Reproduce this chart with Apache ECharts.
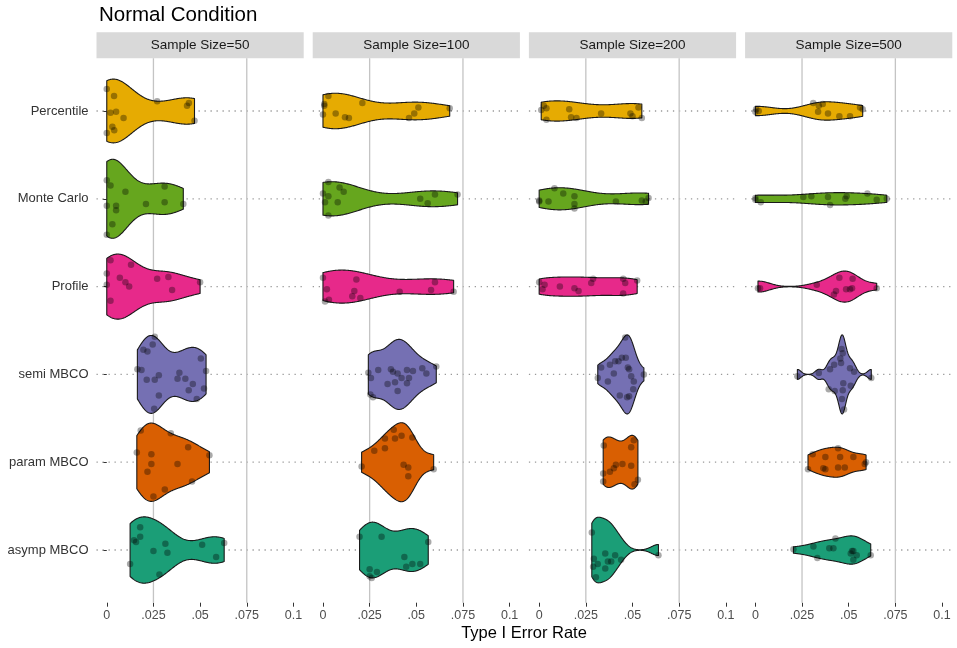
<!DOCTYPE html>
<html>
<head>
<meta charset="utf-8">
<script src="https://cdn.jsdelivr.net/npm/echarts@6/dist/echarts.min.js"></script>
<style>
  html, body { margin: 0; padding: 0; background: #fff; }
  #chart { width: 957px; height: 648px; }
</style>
</head>
<body>
<div id="chart"></div>
<script>
// categories / facets
const methods = ['Percentile', 'Monte Carlo', 'Profile', 'semi MBCO', 'param MBCO', 'asymp MBCO'];
const sampleSizes = [50, 100, 200, 500];
const xTicks = [0, 0.025, 0.05, 0.075, 0.1];
const xTickLabels = ['0', '.025', '.05', '.075', '0.1'];
const refLines = [0.025, 0.075];
const fills = ['#E6AB02', '#66A61E', '#E7298A', '#7570B3', '#D95F02', '#1B9E77'];

// type I error rates, one list per method
const rate50 = [
  [0, .0039, .002, .005, .009, .003, .004, 0, .027, .043, .044, .047],
  [0, .002, .010, .031, 0, .005, .005, .021, .031, .041, .003, 0],
  [.002, .013, 0, 0, .007, .010, .012, .002, .027, .033, .035, .050],
  [.0257, .0246, .0196, .0218, .0164, .0186, .0214, .0257, .0279, .0279, .0254, .0389, .0379, .0421, .0461, .0439, .0482, .0504, .0532, .0521],
  [.0182, .0343, .0161, .0239, .0239, .0218, .0379, .0436, .055, .0457, .0311, .025],
  [.0179, .0179, .0146, .0157, .0125, .025, .0314, .0325, .0282, .0511, .0586, .0629]
];
// vertical jitter of the dots, in category units (positive = up)
const jitter50 = [
  [.25, .17, -.02, -.01, -.08, -.18, -.22, -.25, .11, .06, .09, -.11],
  [.21, .15, .08, .14, -.08, -.08, -.13, -.06, -.04, -.06, -.29, -.41],
  [.30, .25, .15, .02, .10, .05, 0, -.16, .09, .11, -.04, .05],
  [.43, .34, .28, .26, .06, .05, -.06, -.06, -.01, -.24, -.39, .02, -.05, -.05, -.11, -.18, -.28, .18, .04, -.16],
  [.36, .33, .11, .09, -.02, -.11, -.02, .17, .08, -.22, -.31, -.39],
  [.26, .15, .11, .09, -.16, -.01, .07, -.03, -.28, .06, -.08, .08]
];

const rate100 = [
  [.0029, .0007, .0007, 0, .0068, .0118, .0139, .0211, .0461, .0489, .0511, .0679],
  [.0029, 0, .0029, .0011, .0079, .0089, .0111, .0029, .0521, .0561, .06, .0721],
  [0, .0021, .0011, .0032, .0179, .0168, .0157, .02, .0411, .0579, .06, .07],
  [.0243, .0257, .0254, .0268, .0296, .0364, .0375, .04, .0421, .0386, .0346, .04, .045, .0482, .0461, .045, .0532, .0554, .0607],
  [.0207, .0275, .0332, .0332, .0379, .0386, .0421, .0479, .0432, .0457, .0457, .0593],
  [.0196, .0314, .025, .025, .0261, .0289, .0436, .0446, .0479, .0521, .0564]
];
const jitter100 = [
  [.17, .08, .06, -.04, -.03, -.07, -.08, .09, -.08, -.03, .04, .03],
  [.19, .06, .03, -.04, -.04, .13, .08, -.19, 0, -.05, .05, .05],
  [.10, -.03, -.17, -.15, .08, -.05, -.11, -.13, -.06, -.04, .05, -.06],
  [.02, -.04, -.23, -.26, .05, .06, .03, .01, -.04, -.09, -.11, -.19, .05, .04, -.04, -.10, .07, .01, .09],
  [-.05, .13, .27, .16, .37, .27, .30, .28, -.03, -.06, -.16, -.08],
  [.15, .15, -.22, -.30, -.32, -.25, -.08, -.19, -.16, -.16, .09]
];

const rate200 = [
  [.0011, .0039, .0025, .0039, .0161, .0171, .02, .0332, .0489, .05, .0532, .055],
  [0, 0, .005, .0082, .0129, .0189, .0189, .0189, .0411, .055, .0571, .0586],
  [0, .0029, .0018, .0111, .0189, .0211, .0289, .0279, .045, .0461, .045, .0525],
  [.0461, .0464, .0443, .0425, .0407, .0379, .0332, .0314, .0482, .04, .0368, .0493, .0507, .0561, .0504, .0432, .0471, .0482, .0475],
  [.0346, .0493, .0507, .0446, .0411, .04, .0379, .0343, .0493, .0343, .0511, .0529],
  [.0282, .0354, .0293, .0314, .0289, .0354, .0368, .0386, .0407, .0439, .0304, .0639]
];
const jitter200 = [
  [.01, .03, .06, -.10, .02, -.07, -.08, -.03, -.03, -.06, .04, -.08],
  [-.03, -.02, -.03, .12, .06, .03, -.06, -.11, -.03, -.02, -.03, .01],
  [.05, .02, -.03, 0, -.02, -.05, .09, .04, .09, .04, -.08, .07],
  [.42, .19, .19, .15, .15, .11, .08, -.04, .06, .01, -.08, -.02, -.08, 0, -.17, -.24, -.26, -.25, .08],
  [.19, .17, .25, -.02, -.03, -.07, -.11, -.13, -.04, -.22, -.25, -.20],
  [.20, -.04, -.10, -.16, -.19, -.21, -.13, -.13, -.06, -.11, -.31, -.06]
];

const rate500 = [
  [.0004, .0018, 0, .031, .034, .0361, .0336, .0389, .045, .0507, .0561, .0575],
  [0, 0, .0029, .0257, .03, .0389, .04, .0482, .0489, .06, .065, .0704],
  [.0014, .0025, .0329, .045, .0521, .0432, .0421, .0486, .0507, .0518, .065],
  [.0225, .034, .040, .0422, .0462, .0468, .0455, .0459, .0507, .0529, .0393, .0425, .0471, .0468, .0511, .0464, .0475, .0621],
  [.0282, .0307, .0375, .0364, .0375, .0443, .0454, .0443, .0479, .0525, .0586, .0593],
  [.0204, .0311, .0332, .0396, .0418, .0429, .0518, .0525, .0511, .0543, .0525, .0618]
];
const jitter500 = [
  [.02, 0, -.01, .09, .06, .08, -.01, -.03, -.06, -.06, .04, .02],
  [-.01, .01, -.04, .02, .03, .02, -.07, 0, .03, .06, -.01, 0],
  [-.02, -.02, .02, .10, .09, -.05, -.09, -.03, -.03, -.02, -.02],
  [-.02, .015, .06, .11, .29, .24, .18, .13, .07, .03, -.17, -.19, -.10, -.18, -.13, -.28, -.40, -.04],
  [-.08, .09, .06, -.07, -.08, .16, .06, -.06, -.06, .06, -.02, 0],
  [.01, .04, -.09, .02, .02, .13, -.01, -.01, -.04, -.06, -.11, -.06]
];

const rates = [rate50, rate100, rate200, rate500];
const jitters = [jitter50, jitter100, jitter200, jitter500];

const FONT = '"Liberation Sans", Arial, Helvetica, sans-serif';
const X_MIN = -0.0055, X_MAX = 0.1055;
const Y_MIN = 0.4, Y_MAX = 6.6;

// gaussian kde like geom_violin (bw.nrd0, trimmed, scale = "area" per panel)
function q7(s, p) {
  const h = (s.length - 1) * p, lo = Math.floor(h);
  const hi = Math.min(lo + 1, s.length - 1);
  return s[lo] + (h - lo) * (s[hi] - s[lo]);
}
function bwNrd0(x) {
  const n = x.length;
  const mean = x.reduce((a, b) => a + b, 0) / n;
  const sd = Math.sqrt(x.reduce((a, b) => a + (b - mean) * (b - mean), 0) / (n - 1));
  const s = x.slice().sort((a, b) => a - b);
  let lo = Math.min(sd, (q7(s, 0.75) - q7(s, 0.25)) / 1.34);
  if (!lo) lo = sd || Math.abs(s[0]) || 1;
  return 0.9 * lo * Math.pow(n, -0.2);
}
function kde(x) {
  const bw = bwNrd0(x), lo = Math.min(...x), hi = Math.max(...x), m = 160;
  const out = [];
  for (let i = 0; i < m; i++) {
    const t = lo + (hi - lo) * i / (m - 1);
    let d = 0;
    for (const v of x) { const z = (t - v) / bw; d += Math.exp(-0.5 * z * z); }
    out.push([t, d / (x.length * bw * Math.sqrt(2 * Math.PI))]);
  }
  return out;
}
const curves = rates.map(panel => {
  const c = panel.map(kde);
  const maxD = Math.max(...c.map(v => Math.max(...v.map(p => p[1]))));
  return c.map(v => v.map(([t, d]) => [t, 0.45 * d / maxD]));
});

const chart = echarts.init(document.getElementById('chart'));

const grids = [], xAxes = [], yAxes = [], series = [], graphics = [];
const gridTop = 58.3, gridH = 544.4, gridW = 207.2;

sampleSizes.forEach((n, p) => {
  const left = 96.5 + p * 216.2;
  grids.push({ left: left, top: gridTop, width: gridW, height: gridH, containLabel: false });
  xAxes.push({
    gridIndex: p, type: 'value', min: X_MIN, max: X_MAX,
    axisLine: { show: false }, splitLine: { show: false },
    axisTick: { show: true, customValues: xTicks, length: 4, lineStyle: { color: '#333', width: 1 } },
    axisLabel: {
      customValues: xTicks, color: '#4d4d4d', fontSize: 12.5, margin: 6, fontFamily: FONT,
      formatter: v => { const k = xTicks.findIndex(t => Math.abs(t - v) < 1e-9); return k < 0 ? '' : xTickLabels[k]; }
    }
  });
  yAxes.push({
    gridIndex: p, type: 'value', inverse: true, min: Y_MIN, max: Y_MAX,
    axisLine: { show: false }, splitLine: { show: false },
    axisTick: { show: p === 0, customValues: [1, 2, 3, 4, 5, 6], length: 4, lineStyle: { color: '#333', width: 1 } },
    axisLabel: {
      show: p === 0, customValues: [1, 2, 3, 4, 5, 6], color: '#333', fontSize: 13, margin: 8, fontFamily: FONT,
      formatter: v => methods[Math.round(v) - 1] || ''
    }
  });

  // guide lines: dotted at each method, solid at the reference rates
  series.push({
    type: 'custom', xAxisIndex: p, yAxisIndex: p, z: 1, silent: true,
    data: methods.map((m, i) => [X_MIN, i + 1, 0]).concat(refLines.map(r => [r, Y_MIN, 1])),
    encode: { x: 0, y: 1 },
    renderItem(params, api) {
      const kind = api.value(2);
      if (kind === 0) {
        const y = api.value(1);
        const a = api.coord([X_MIN, y]), b = api.coord([X_MAX, y]);
        return { type: 'line', shape: { x1: a[0], y1: a[1], x2: b[0], y2: b[1] },
          style: { stroke: '#9a9a9a', lineWidth: 1.3, lineDash: [1.3, 4.7] } };
      }
      const x = api.value(0);
      const a = api.coord([x, Y_MIN]), b = api.coord([x, Y_MAX]);
      return { type: 'line', shape: { x1: a[0], y1: a[1], x2: b[0], y2: b[1] },
        style: { stroke: '#c4c4c4', lineWidth: 1.3 } };
    }
  });

  // violins
  series.push({
    type: 'custom', xAxisIndex: p, yAxisIndex: p, z: 2, silent: true,
    data: methods.map((m, i) => [curves[p][i][0][0], i + 1, i]),
    encode: { x: 0, y: 1 },
    renderItem(params, api) {
      const i = api.value(2);
      const c = curves[p][i];
      const upper = c.map(([t, w]) => api.coord([t, i + 1 - w]));
      const lower = c.slice().reverse().map(([t, w]) => api.coord([t, i + 1 + w]));
      return { type: 'polygon', shape: { points: upper.concat(lower) },
        style: { fill: fills[i], stroke: '#1a1a1a', lineWidth: 1.1, lineJoin: 'round' } };
    }
  });

  // jittered points
  const pts = [];
  rates[p].forEach((vals, i) => vals.forEach((v, k) => pts.push([v, i + 1 - jitters[p][i][k]])));
  series.push({
    type: 'scatter', xAxisIndex: p, yAxisIndex: p, z: 3, silent: true,
    symbolSize: 6.5, data: pts,
    itemStyle: { color: 'rgba(0,0,0,0.42)', borderWidth: 0 }
  });

  // facet strip
  graphics.push({ type: 'rect', shape: { x: left, y: 32.3, width: gridW, height: 26 }, style: { fill: '#d9d9d9' }, silent: true });
  graphics.push({ type: 'text', x: left + gridW / 2, y: 45.5, silent: true,
    style: { text: 'Sample Size=' + n, align: 'center', verticalAlign: 'middle', fontSize: 13.5, fill: '#1a1a1a', font: '13.5px ' + FONT } });
});

graphics.push({ type: 'text', x: 524, y: 633, silent: true,
  style: { text: 'Type I Error Rate', align: 'center', verticalAlign: 'middle', fill: '#000', font: '16.5px ' + FONT } });

chart.setOption({
  animation: false,
  textStyle: { fontFamily: FONT },
  title: { text: 'Normal Condition', left: 94, top: 0, textStyle: { fontSize: 20.5, fontWeight: 'normal', color: '#000', fontFamily: FONT } },
  grid: grids, xAxis: xAxes, yAxis: yAxes, series: series,
  graphic: graphics
});
</script>
</body>
</html>
